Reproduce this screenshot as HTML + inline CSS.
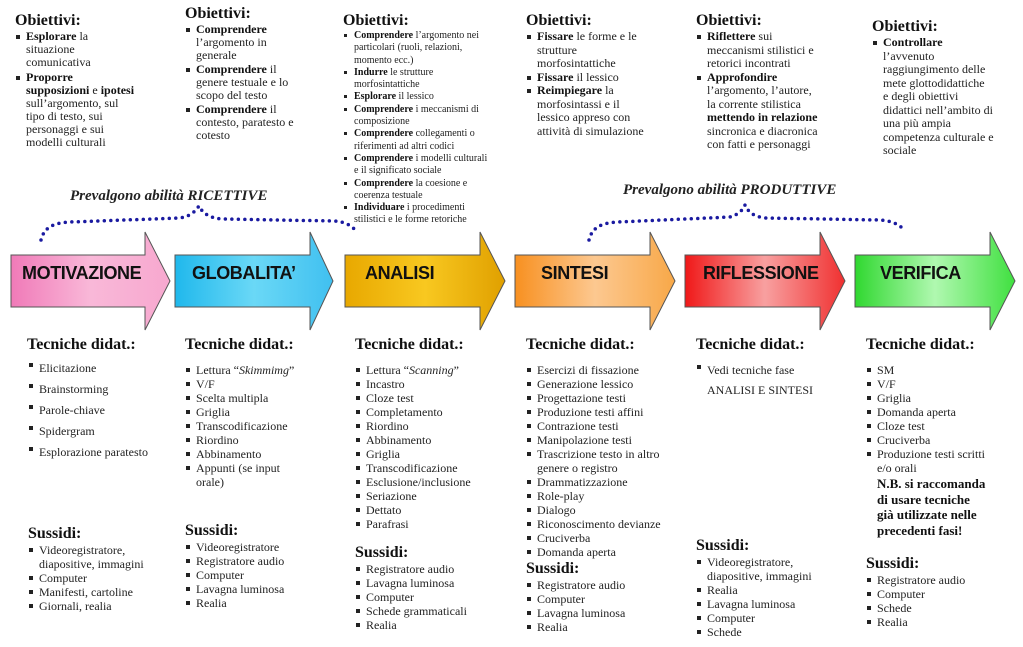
<!DOCTYPE html>
<html><head><meta charset="utf-8">
<style>
body{margin:0;width:1023px;height:647px;background:#fff;position:relative;overflow:hidden;font-family:"Liberation Serif",serif;color:#222}
.b{position:absolute;font-size:12px;line-height:13px}
.h{font-weight:bold;font-size:16px;line-height:18px;color:#111}
.i{position:relative;padding-left:11px}
.i:before{content:"";position:absolute;left:1px;top:5px;width:4px;height:4px;background:#222}
.s{font-size:10px;line-height:12px}
.s .i:before{top:4px;width:3px;height:3px}
b{color:#111}
.t{line-height:14px}
.lbl{position:absolute;font-family:"Liberation Sans",sans-serif;font-weight:bold;font-size:18px;letter-spacing:-0.4px;color:#111;top:263px}
.it{position:absolute;font-weight:bold;font-style:italic;font-size:15px;color:#222}
</style></head><body>
<svg width="1023" height="647" style="position:absolute;left:0;top:0">
<defs>
<linearGradient id="g1" x1="0" x2="1"><stop offset="0" stop-color="#f07ab8"/><stop offset="0.5" stop-color="#f9b8d8"/><stop offset="1" stop-color="#f7a8cf"/></linearGradient>
<linearGradient id="g2" x1="0" x2="1"><stop offset="0" stop-color="#20b8ec"/><stop offset="0.5" stop-color="#6ad8f6"/><stop offset="1" stop-color="#40c0f0"/></linearGradient>
<linearGradient id="g3" x1="0" x2="1"><stop offset="0" stop-color="#e8a800"/><stop offset="0.5" stop-color="#f8c820"/><stop offset="1" stop-color="#e0a000"/></linearGradient>
<linearGradient id="g4" x1="0" x2="1"><stop offset="0" stop-color="#f89020"/><stop offset="0.5" stop-color="#fcc890"/><stop offset="1" stop-color="#f8a848"/></linearGradient>
<linearGradient id="g5" x1="0" x2="1"><stop offset="0" stop-color="#f01818"/><stop offset="0.5" stop-color="#f8a0a0"/><stop offset="1" stop-color="#f03030"/></linearGradient>
<linearGradient id="g6" x1="0" x2="1"><stop offset="0" stop-color="#30d830"/><stop offset="0.5" stop-color="#b0f8b0"/><stop offset="1" stop-color="#40e040"/></linearGradient>
</defs>
<g stroke="#555" stroke-width="1">
<path d="M11 255H145V232L170 281L145 330V307H11Z" fill="url(#g1)"/>
<path d="M175 255H310V232L333 281L310 330V307H175Z" fill="url(#g2)"/>
<path d="M345 255H480V232L505 281L480 330V307H345Z" fill="url(#g3)"/>
<path d="M515 255H650V232L675 281L650 330V307H515Z" fill="url(#g4)"/>
<path d="M685 255H820V232L845 281L820 330V307H685Z" fill="url(#g5)"/>
<path d="M855 255H990V232L1015 281L990 330V307H855Z" fill="url(#g6)"/>
</g>
<g fill="none" stroke="#1a1aa0" stroke-width="3.5" stroke-linecap="round" stroke-dasharray="0 6.5">
<path d="M41 240C44 228 52 223 70 222L180 218C192 216 196 210 199 206C202 212 208 218 222 219L335 221C346 222 352 226 356 231"/>
<path d="M589 240C592 228 600 223 618 222L730 217C740 214 743 209 745 205C748 212 754 217 766 218L880 220C893 221 900 225 904 230"/>
</g>
</svg>
<div class="lbl" style="left:22px">MOTIVAZIONE</div>
<div class="lbl" style="left:192px">GLOBALITA’</div>
<div class="lbl" style="left:365px">ANALISI</div>
<div class="lbl" style="left:541px">SINTESI</div>
<div class="lbl" style="left:703px">RIFLESSIONE</div>
<div class="lbl" style="left:880px">VERIFICA</div>
<div class="it" style="left:70px;top:188px">Prevalgono abilità RICETTIVE</div>
<div class="it" style="left:623px;top:182px">Prevalgono abilità PRODUTTIVE</div>

<div class="b" style="left:15px;top:12px;width:150px"><div class="h">Obiettivi:</div>
<div class="i"><b>Esplorare</b> la<br>situazione<br>comunicativa</div>
<div class="i" style="margin-top:2px"><b>Proporre<br>supposizioni</b> e <b>ipotesi</b><br>sull’argomento, sul<br>tipo di testo, sui<br>personaggi e sui<br>modelli culturali</div></div>

<div class="b" style="left:185px;top:5px;width:150px"><div class="h">Obiettivi:</div>
<div class="i"><b>Comprendere</b><br>l’argomento in<br>generale</div>
<div class="i" style="margin-top:1px"><b>Comprendere</b> il<br>genere testuale e lo<br>scopo del testo</div>
<div class="i" style="margin-top:1px"><b>Comprendere</b> il<br>contesto, paratesto e<br>cotesto</div></div>

<div class="b s" style="left:343px;top:12px;width:170px;line-height:12.3px"><div class="h">Obiettivi:</div>
<div class="i"><b>Comprendere</b> l’argomento nei<br>particolari (ruoli, relazioni,<br>momento ecc.)</div>
<div class="i"><b>Indurre</b> le strutture<br>morfosintattiche</div>
<div class="i"><b>Esplorare</b> il lessico</div>
<div class="i"><b>Comprendere</b> i meccanismi di<br>composizione</div>
<div class="i"><b>Comprendere</b> collegamenti o<br>riferimenti ad altri codici</div>
<div class="i"><b>Comprendere</b> i modelli culturali<br>e il significato sociale</div>
<div class="i"><b>Comprendere</b> la coesione e<br>coerenza testuale</div>
<div class="i"><b>Individuare</b> i procedimenti<br>stilistici e le forme retoriche</div></div>

<div class="b" style="left:526px;top:12px;width:160px;line-height:13.5px"><div class="h">Obiettivi:</div>
<div class="i"><b>Fissare</b> le forme e le<br>strutture<br>morfosintattiche</div>
<div class="i"><b>Fissare</b> il lessico</div>
<div class="i"><b>Reimpiegare</b> la<br>morfosintassi e il<br>lessico appreso con<br>attività di simulazione</div></div>

<div class="b" style="left:696px;top:12px;width:160px;line-height:13.5px"><div class="h">Obiettivi:</div>
<div class="i"><b>Riflettere</b> sui<br>meccanismi stilistici e<br>retorici incontrati</div>
<div class="i"><b>Approfondire</b><br>l’argomento, l’autore,<br>la corrente stilistica<br><b>mettendo in relazione</b><br>sincronica e diacronica<br>con fatti e personaggi</div></div>

<div class="b" style="left:872px;top:18px;width:150px;line-height:13.5px"><div class="h">Obiettivi:</div>
<div class="i"><b>Controllare</b><br>l’avvenuto<br>raggiungimento delle<br>mete glottodidattiche<br>e degli obiettivi<br>didattici nell’ambito di<br>una più ampia<br>competenza culturale e<br>sociale</div></div>

<div class="b" style="left:28px;top:336px;width:150px;line-height:21px"><div class="h" style="margin-left:-1px;margin-bottom:4px">Tecniche didat.:</div>
<div class="i">Elicitazione</div><div class="i">Brainstorming</div><div class="i">Parole-chiave</div><div class="i">Spidergram</div><div class="i">Esplorazione paratesto</div></div>
<div class="b t" style="left:28px;top:525px;width:150px"><div class="h">Sussidi:</div>
<div class="i">Videoregistratore,<br>diapositive, immagini</div><div class="i">Computer</div><div class="i">Manifesti, cartoline</div><div class="i">Giornali, realia</div></div>

<div class="b t" style="left:185px;top:336px;width:150px"><div class="h" style="margin-bottom:9px">Tecniche didat.:</div>
<div class="i">Lettura “<i>Skimmimg</i>”</div><div class="i">V/F</div><div class="i">Scelta multipla</div><div class="i">Griglia</div><div class="i">Transcodificazione</div><div class="i">Riordino</div><div class="i">Abbinamento</div><div class="i">Appunti (se input<br>orale)</div></div>
<div class="b t" style="left:185px;top:522px;width:150px"><div class="h">Sussidi:</div>
<div class="i">Videoregistratore</div><div class="i">Registratore audio</div><div class="i">Computer</div><div class="i">Lavagna luminosa</div><div class="i">Realia</div></div>

<div class="b t" style="left:355px;top:336px;width:160px"><div class="h" style="margin-bottom:9px">Tecniche didat.:</div>
<div class="i">Lettura “<i>Scanning</i>”</div><div class="i">Incastro</div><div class="i">Cloze test</div><div class="i">Completamento</div><div class="i">Riordino</div><div class="i">Abbinamento</div><div class="i">Griglia</div><div class="i">Transcodificazione</div><div class="i">Esclusione/inclusione</div><div class="i">Seriazione</div><div class="i">Dettato</div><div class="i">Parafrasi</div></div>
<div class="b t" style="left:355px;top:544px;width:160px"><div class="h">Sussidi:</div>
<div class="i">Registratore audio</div><div class="i">Lavagna luminosa</div><div class="i">Computer</div><div class="i">Schede grammaticali</div><div class="i">Realia</div></div>

<div class="b t" style="left:526px;top:336px;width:165px"><div class="h" style="margin-bottom:9px">Tecniche didat.:</div>
<div class="i">Esercizi di fissazione</div><div class="i">Generazione lessico</div><div class="i">Progettazione testi</div><div class="i">Produzione testi affini</div><div class="i">Contrazione testi</div><div class="i">Manipolazione testi</div><div class="i">Trascrizione testo in altro<br>genere o registro</div><div class="i">Drammatizzazione</div><div class="i">Role-play</div><div class="i">Dialogo</div><div class="i">Riconoscimento devianze</div><div class="i">Cruciverba</div><div class="i">Domanda aperta</div></div>
<div class="b t" style="left:526px;top:560px;width:160px"><div class="h">Sussidi:</div>
<div class="i">Registratore audio</div><div class="i">Computer</div><div class="i">Lavagna luminosa</div><div class="i">Realia</div></div>

<div class="b" style="left:696px;top:336px;width:160px;line-height:20px"><div class="h" style="margin-bottom:6px">Tecniche didat.:</div>
<div class="i">Vedi tecniche fase</div><div style="padding-left:11px">ANALISI E SINTESI</div></div>
<div class="b t" style="left:696px;top:537px;width:160px"><div class="h">Sussidi:</div>
<div class="i">Videoregistratore,<br>diapositive, immagini</div><div class="i">Realia</div><div class="i">Lavagna luminosa</div><div class="i">Computer</div><div class="i">Schede</div></div>

<div class="b t" style="left:866px;top:336px;width:155px"><div class="h" style="margin-bottom:9px">Tecniche didat.:</div>
<div class="i">SM</div><div class="i">V/F</div><div class="i">Griglia</div><div class="i">Domanda aperta</div><div class="i">Cloze test</div><div class="i">Cruciverba</div><div class="i">Produzione testi scritti<br>e/o orali</div>
<div style="padding-left:11px;font-weight:bold;font-size:13px;line-height:15.5px;color:#111;margin-top:1px">N.B. si raccomanda<br>di usare tecniche<br>già utilizzate nelle<br>precedenti fasi!</div></div>
<div class="b t" style="left:866px;top:555px;width:155px"><div class="h">Sussidi:</div>
<div class="i">Registratore audio</div><div class="i">Computer</div><div class="i">Schede</div><div class="i">Realia</div></div>
</body></html>
